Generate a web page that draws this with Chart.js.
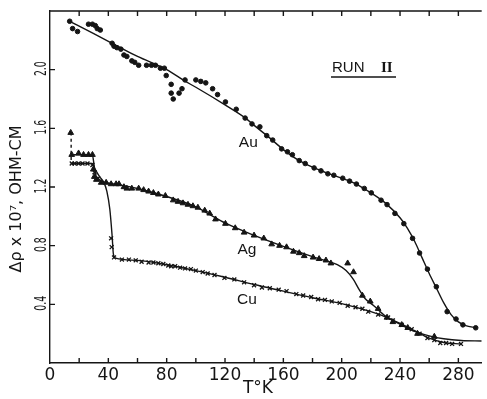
<!DOCTYPE html>
<html>
<head>
<meta charset="utf-8">
<script src="https://cdn.jsdelivr.net/npm/chart.js@4.4.1/dist/chart.umd.min.js"></script>
<style>
  html, body { margin: 0; padding: 0; background: #fff; }
  canvas { display: block; }
</style>
</head>
<body>
<canvas id="myChart" width="487" height="399"></canvas>
<script>
// measured points, T in K, delta rho in 1e-7 ohm-cm
const auTemp = [13.5, 15.5, 18.9, 26.4, 29.1, 31.1, 32.4, 34.5, 42.6, 43.9, 45.9, 48.6, 50.7, 52.7, 56.1, 58.1, 60.8,
  66.2, 69.6, 72.3, 75.7, 78.4, 79.7, 83.1, 83.1, 84.5, 88.5, 90.5, 92.6, 100, 103.4, 106.8, 111.5, 114.9, 120.3,
  127.7, 133.8, 138.5, 143.9, 148.6, 152.7, 158.8, 162.8, 166.2, 170.9, 175, 181.1, 185.8, 190.5, 194.6, 200.7,
  205.4, 210.1, 215.5, 220.3, 227, 231.1, 236.5, 242.6, 248.6, 253.4, 258.8, 264.9, 272.3, 278.4, 283.1, 291.9];
const auRho = [2.33, 2.28, 2.26, 2.31, 2.31, 2.30, 2.28, 2.27, 2.18, 2.16, 2.15, 2.14, 2.10, 2.09, 2.06, 2.05, 2.03,
  2.03, 2.03, 2.03, 2.01, 2.01, 1.96, 1.90, 1.84, 1.80, 1.84, 1.87, 1.93, 1.93, 1.92, 1.91, 1.87, 1.83, 1.78,
  1.73, 1.67, 1.63, 1.61, 1.55, 1.52, 1.46, 1.44, 1.42, 1.38, 1.36, 1.33, 1.31, 1.29, 1.28, 1.26,
  1.24, 1.22, 1.19, 1.16, 1.11, 1.08, 1.02, 0.95, 0.85, 0.75, 0.64, 0.52, 0.35, 0.30, 0.26, 0.24];

const agTemp = [14.2, 14.9, 19.6, 23, 26.4, 29.1, 29.7, 30.4, 31.8, 35.1, 38.5, 41.9, 45.3, 47.3, 50.7, 52.7, 56.1,
  60.8, 64.2, 67.6, 70.9, 74.3, 79.1, 84.5, 87.8, 91.2, 94.6, 98, 101.4, 106.1, 109.5, 113.5, 120.3, 127, 133.1,
  139.9, 146.6, 152, 157.4, 162.2, 166.9, 170.9, 174.3, 180.4, 184.5, 189.2, 192.6, 204.1, 208.1, 214.2, 219.6,
  225, 231.1, 235.1, 241.2, 245.3, 252, 263.5];
const agRho = [1.57, 1.42, 1.43, 1.42, 1.42, 1.42, 1.32, 1.27, 1.25, 1.23, 1.23, 1.22, 1.22, 1.22, 1.20, 1.19, 1.19,
  1.19, 1.18, 1.17, 1.16, 1.15, 1.14, 1.11, 1.10, 1.09, 1.08, 1.07, 1.06, 1.04, 1.02, 0.98, 0.95, 0.92, 0.89,
  0.87, 0.85, 0.81, 0.80, 0.79, 0.76, 0.75, 0.73, 0.72, 0.71, 0.70, 0.68, 0.68, 0.62, 0.46, 0.42,
  0.37, 0.31, 0.28, 0.26, 0.24, 0.20, 0.18];

const cuTemp = [14.9, 16.9, 19.6, 22.3, 25.7, 29.1, 30.5, 33, 41.9, 42.3, 43.9, 49.3, 54.1, 58.8, 62.8, 67.6, 70.9,
  74.3, 77.7, 81.1, 83.1, 85.8, 89.2, 92.6, 96.6, 100, 104.7, 108.1, 112.8, 119.6, 126.4, 133.1, 139.9, 145.3,
  150.7, 156.8, 162.2, 168.9, 173.6, 179.1, 183.8, 188.5, 193.2, 198.6, 204.1, 209.5, 214.2, 218.2, 225, 231.8,
  235.1, 241.2, 248, 253.4, 258.8, 263.5, 267.6, 271.6, 275.7, 281.8];
const cuRho = [1.36, 1.36, 1.36, 1.36, 1.36, 1.35, 1.30, 1.26, 0.85, 0.79, 0.72, 0.705, 0.705, 0.70, 0.69, 0.685, 0.685,
  0.68, 0.675, 0.665, 0.66, 0.66, 0.65, 0.645, 0.64, 0.63, 0.62, 0.61, 0.60, 0.58, 0.57, 0.55, 0.53, 0.515,
  0.51, 0.50, 0.49, 0.47, 0.46, 0.45, 0.435, 0.43, 0.42, 0.41, 0.39, 0.38, 0.37, 0.35, 0.33, 0.31,
  0.29, 0.26, 0.23, 0.20, 0.17, 0.156, 0.136, 0.136, 0.13, 0.13];

// smooth curves drawn through the data
const auFitTemp = [13.5, 30, 42.6, 60, 80, 92, 100, 120, 134, 140, 150, 160, 170, 180, 190, 200, 210, 220, 230, 240,
  245, 250, 255, 260, 265, 270, 275, 280, 285, 292];
const auFitRho = [2.33, 2.245, 2.18, 2.09, 2.0, 1.925, 1.88, 1.76, 1.67, 1.62, 1.54, 1.455, 1.385, 1.335, 1.295, 1.26,
  1.22, 1.16, 1.09, 0.99, 0.92, 0.83, 0.72, 0.61, 0.51, 0.41, 0.33, 0.28, 0.255, 0.24];

const agFitTemp = [14.5, 29, 30.5, 32, 36, 45, 60, 80, 100, 110, 120, 140, 160, 180, 190, 197, 203, 208, 212, 216,
  222, 230, 240, 250, 260, 270, 282, 296];
const agFitRho = [1.42, 1.42, 1.33, 1.26, 1.235, 1.22, 1.19, 1.135, 1.065, 1.01, 0.955, 0.87, 0.795, 0.725, 0.695,
  0.67, 0.63, 0.57, 0.50, 0.44, 0.39, 0.32, 0.265, 0.215, 0.185, 0.165, 0.153, 0.15];

const cuFitTemp = [14.5, 29, 31, 34, 37, 39, 41, 42.5, 43.5, 45, 60, 80, 100, 120, 140, 160, 180, 200, 220, 230, 240,
  250, 260, 270, 282];
const cuFitRho = [1.36, 1.36, 1.32, 1.27, 1.23, 1.17, 1.05, 0.88, 0.74, 0.715, 0.70, 0.67, 0.63, 0.585, 0.535, 0.49,
  0.445, 0.405, 0.35, 0.315, 0.27, 0.22, 0.17, 0.14, 0.13];

// dashed drop at the lowest temperature
const dropTemp = [14.5, 14.5];
const dropRho = [1.57, 1.36];

const xTicks = [0, 40, 80, 120, 160, 200, 240, 280];
const yTicks = ['0.4', '0.8', '1.2', '1.6', '2.0'];

const ink = '#151515';

const pts = (xs, ys) => xs.map((v, i) => ({ x: v, y: ys[i] }));

const marks = (data, style, radius, width) => ({
  data: data,
  showLine: false,
  pointStyle: style,
  pointRadius: radius,
  pointBackgroundColor: ink,
  pointBorderColor: ink,
  pointBorderWidth: width
});

const curve = (data, dash) => ({
  data: data,
  showLine: true,
  borderColor: ink,
  borderWidth: 1.4,
  borderDash: dash || [],
  pointRadius: 0,
  cubicInterpolationMode: 'monotone'
});

const decor = {
  id: 'decor',
  afterDraw(chart) {
    const { ctx, chartArea: a, scales: { x, y } } = chart;
    ctx.save();
    ctx.strokeStyle = ink;
    ctx.fillStyle = ink;
    ctx.lineWidth = 1.4;

    // frame top and inward ticks
    ctx.beginPath();
    ctx.moveTo(a.left, a.top);
    ctx.lineTo(a.right, a.top);
    for (let t = 20; t <= 296; t += 20) {
      const px = x.getPixelForValue(t);
      ctx.moveTo(px, a.bottom);
      ctx.lineTo(px, a.bottom - 5);
      ctx.moveTo(px, a.top);
      ctx.lineTo(px, a.top + 5);
    }
    yTicks.forEach(v => {
      const py = y.getPixelForValue(+v);
      ctx.moveTo(a.left, py);
      ctx.lineTo(a.left + 5, py);
    });
    ctx.stroke();

    // y tick labels, rotated and narrow
    ctx.font = '15px "DejaVu Sans"';
    ctx.textAlign = 'center';
    ctx.textBaseline = 'middle';
    yTicks.forEach(v => {
      const py = y.getPixelForValue(+v);
      ctx.save();
      ctx.translate(a.left - 8, py - 1);
      ctx.rotate(-Math.PI / 2);
      ctx.scale(0.62, 1);
      ctx.fillText(v, 0, 0);
      ctx.restore();
    });

    // axis titles
    ctx.save();
    ctx.translate(17, 199);
    ctx.rotate(-Math.PI / 2);
    ctx.font = '16px "DejaVu Sans"';
    ctx.fillText('\u0394\u03c1 x 10\u2077, OHM-CM', 0, 0);
    ctx.restore();

    ctx.font = '17px "DejaVu Sans"';
    ctx.fillText('T\u00b0K', 258, 389);

    // curve names
    ctx.font = '15.5px "Liberation Sans"';
    ctx.fillText('Au', x.getPixelForValue(136), y.getPixelForValue(1.50));
    ctx.fillText('Ag', x.getPixelForValue(135), y.getPixelForValue(0.77));
    ctx.fillText('Cu', x.getPixelForValue(135), y.getPixelForValue(0.43));

    // run label
    ctx.font = '15px "Liberation Sans"';
    ctx.textAlign = 'left';
    ctx.fillText('RUN', 332, 68);
    ctx.font = 'bold 15px "Liberation Serif"';
    ctx.fillText('II', 381, 68);
    ctx.lineWidth = 1.3;
    ctx.beginPath();
    ctx.moveTo(331, 77);
    ctx.lineTo(396, 77);
    ctx.stroke();
    ctx.restore();
  }
};

const ctx = document.getElementById('myChart');

new Chart(ctx, {
  type: 'scatter',
  data: {
    datasets: [
      curve(pts(auFitTemp, auFitRho)),
      curve(pts(agFitTemp, agFitRho)),
      curve(pts(cuFitTemp, cuFitRho)),
      curve(pts(dropTemp, dropRho), [3, 3]),
      marks(pts(auTemp, auRho), 'circle', 2.3, 1),
      marks(pts(agTemp, agRho), 'triangle', 3.3, 1),
      marks(pts(cuTemp, cuRho), 'crossRot', 2.8, 1.3)
    ]
  },
  options: {
    responsive: false,
    animation: false,
    devicePixelRatio: 1,
    layout: { padding: { top: 11, right: 0, left: 0, bottom: 0 } },
    plugins: { legend: { display: false }, tooltip: { enabled: false } },
    scales: {
      x: {
        type: 'linear',
        min: 0,
        max: 296,
        afterFit: s => { s.height = 36; },
        afterBuildTicks: s => { s.ticks = xTicks.map(v => ({ value: v })); },
        grid: { display: false, drawTicks: false },
        border: { display: true, color: ink, width: 1.4 },
        ticks: {
          padding: 2,
          color: ink,
          font: { family: 'DejaVu Sans', size: 17 },
          callback: v => String(v)
        }
      },
      y: {
        type: 'linear',
        min: 0,
        max: 2.4,
        afterFit: s => { s.width = 50; },
        grid: { display: false, drawTicks: false },
        border: { display: true, color: ink, width: 1.4 },
        ticks: { display: false }
      }
    }
  },
  plugins: [decor]
});
</script>
</body>
</html>
